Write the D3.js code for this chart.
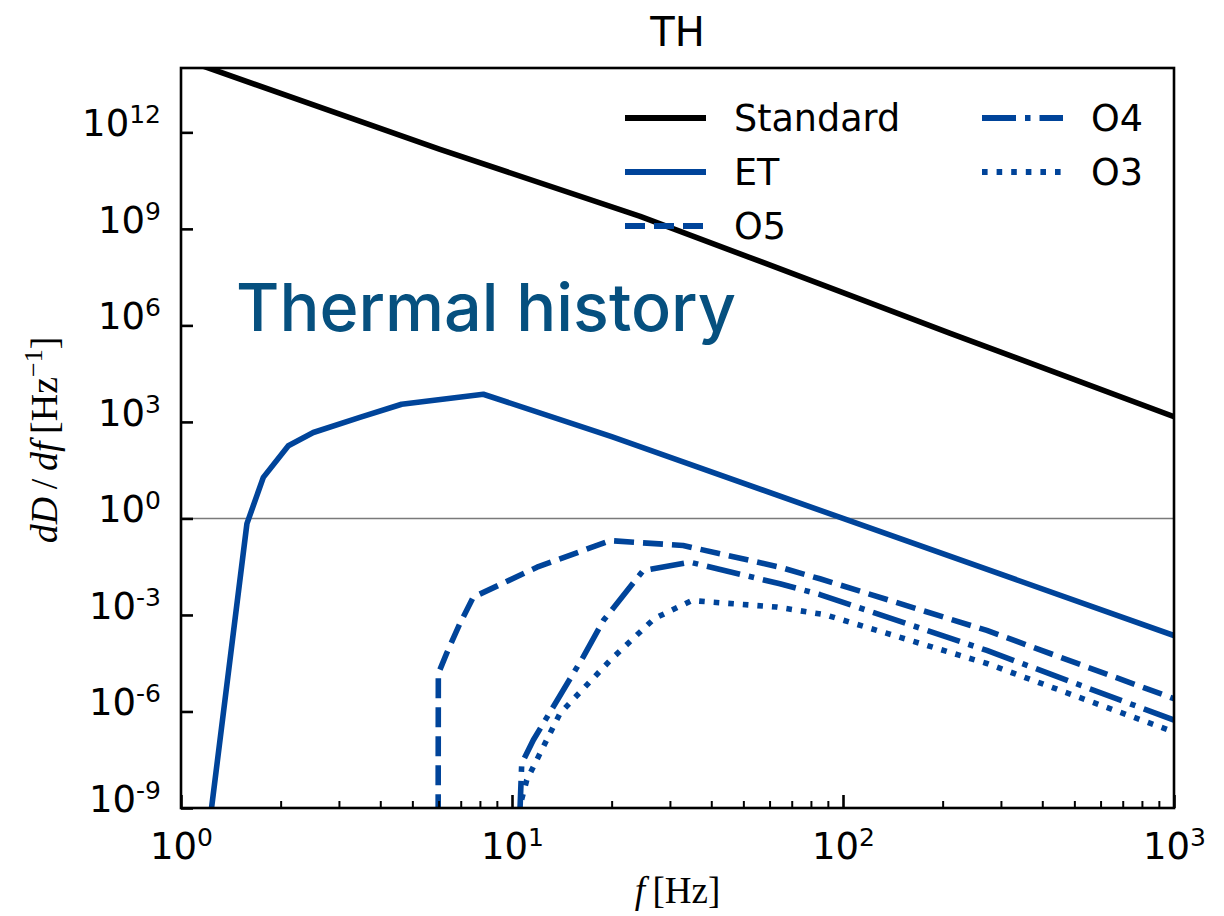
<!DOCTYPE html>
<html>
<head>
<meta charset="utf-8">
<script src="https://cdn.jsdelivr.net/npm/d3@7"></script>
<style>
  html, body { margin: 0; padding: 0; background: #fff; }
  svg { display: block; }
</style>
</head>
<body>
<svg id="chart" width="1224" height="916"></svg>
<script>
// ---------------- data ----------------
const xTickExps = [0, 1, 2, 3];
const yTickExps = [-9, -6, -3, 0, 3, 6, 9, 12];

const standardF = [1, 6.06, 24.4, 100, 210, 450, 1000];
const standardV = [2.0e14, 2.95e11, 2.45e9, 1.05e7, 5.75e5, 3.1e4, 1.45e3];

const etF = [1.2, 1.582, 1.773, 2.11, 2.51, 3.47, 4.64, 8.19, 20, 100, 1000];
const etV = [8.3e-11, 0.69, 18.9, 182, 470, 1380, 3550, 7250, 350, 1.0, 2.3e-4];

const o5F = [5.98, 5.99, 6.35, 6.96, 7.64, 11.9, 19.8, 32.9, 64.5, 85.2, 272, 1000];
const o5V = [1e-11, 1.5e-5, 6.5e-5, 5.4e-4, 3.58e-3, 0.0305, 0.204, 0.144, 0.0305, 0.0133, 3.3e-4, 2.5e-6];

const o4F = [10.4, 10.7, 11.6, 16.4, 18.9, 24.9, 34.5, 64.5, 85.2, 272, 1000];
const o4V = [1e-11, 2.4e-8, 1.3e-7, 4.9e-5, 6.8e-4, 0.024, 0.0437, 9.3e-3, 4.3e-3, 7.9e-5, 5.4e-7];

const o3F = [10.45, 10.6, 11.08, 13.96, 19.8, 26.9, 34.9, 63, 88.2, 272, 1000];
const o3V = [1e-11, 1.3e-9, 7.4e-9, 8.7e-7, 3.9e-5, 7.7e-4, 2.8e-3, 1.76e-3, 1.02e-3, 3.1e-5, 2.3e-7];

const seriesNames = ["Standard", "ET", "O5", "O4", "O3"];

// ---------------- layout ----------------
const L = 181, R = 1174, T = 68, B = 808;
const BLUE = "#00449a";
const LW = 5.6;
const styles = {
  "Standard": { color: "#000", dash: null },
  "ET": { color: BLUE, dash: null },
  "O5": { color: BLUE, dash: [20, 9] },
  "O4": { color: BLUE, dash: [34, 9, 5.5, 9] },
  "O3": { color: BLUE, dash: [5.6, 9] }
};
const seriesData = {
  "Standard": d3.zip(standardF, standardV),
  "ET": d3.zip(etF, etV),
  "O5": d3.zip(o5F, o5V),
  "O4": d3.zip(o4F, o4V),
  "O3": d3.zip(o3F, o3V)
};

const svg = d3.select("#chart");
const x = d3.scaleLog().domain([1, 1000]).range([L, R]);
const y = d3.scaleLog().domain([1e-9, 1e14]).range([B, T]);

svg.append("defs").append("clipPath").attr("id", "plotclip")
  .append("rect").attr("x", L).attr("y", T).attr("width", R - L).attr("height", B - T);

// reference line at 10^0
svg.append("line")
  .attr("x1", L).attr("x2", R).attr("y1", y(1)).attr("y2", y(1))
  .attr("stroke", "#7a7a7a").attr("stroke-width", 1.6);

// series
const line = d3.line().x(d => x(d[0])).y(d => y(d[1]));
const plotG = svg.append("g").attr("clip-path", "url(#plotclip)");
seriesNames.forEach(name => {
  const st = styles[name];
  plotG.append("path")
    .datum(seriesData[name])
    .attr("d", line)
    .attr("fill", "none")
    .attr("stroke", st.color)
    .attr("stroke-width", LW)
    .attr("stroke-linejoin", "round")
    .attr("stroke-dasharray", st.dash ? st.dash.join(",") : null);
});

// frame
svg.append("rect").attr("x", L).attr("y", T).attr("width", R - L).attr("height", B - T)
  .attr("fill", "none").attr("stroke", "#000").attr("stroke-width", 2.6);

// helper for 10^k labels
function powLabel(sel, base, exp, big, small, shift) {
  sel.text(null);
  sel.append("tspan").attr("font-size", big).text(base);
  sel.append("tspan").attr("font-size", small).attr("dy", -shift).text(exp);
}

// y axis
const yAxis = d3.axisLeft(y)
  .tickValues(yTickExps.map(e => Math.pow(10, e)))
  .tickSizeInner(-12).tickSizeOuter(0).tickPadding(20)
  .tickFormat(() => "");
const yg = svg.append("g").attr("transform", `translate(${L},0)`).call(yAxis);
yg.select(".domain").remove();
yg.selectAll(".tick line").attr("stroke", "#000").attr("stroke-width", 2.6);
yg.selectAll(".tick text").each(function(d, i) {
  const t = d3.select(this);
  t.attr("font-family", "DejaVu Sans").attr("fill", "#000").attr("dy", "0.32em").attr("x", -20);
  powLabel(t, "10", String(yTickExps[i]), 37, 25, 13);
});

// x axis (major)
const xAxis = d3.axisBottom(x)
  .tickValues(xTickExps.map(e => Math.pow(10, e)))
  .tickSizeInner(-13).tickSizeOuter(0).tickPadding(0)
  .tickFormat(() => "");
const xg = svg.append("g").attr("transform", `translate(0,${B})`).call(xAxis);
xg.select(".domain").remove();
xg.selectAll(".tick line").attr("stroke", "#000").attr("stroke-width", 2.6);
xg.selectAll(".tick text").each(function(d, i) {
  const t = d3.select(this);
  t.attr("font-family", "DejaVu Sans").attr("fill", "#000").attr("dy", null).attr("y", 51);
  powLabel(t, "10", String(xTickExps[i]), 37, 25, 13);
});

// x axis (minor)
const minorVals = [];
for (let e = 0; e < 3; e++) for (let k = 2; k <= 9; k++) minorVals.push(k * Math.pow(10, e));
const xMinor = d3.axisBottom(x).tickValues(minorVals).tickSizeInner(-7).tickSizeOuter(0).tickFormat(() => "");
const xmg = svg.append("g").attr("transform", `translate(0,${B})`).call(xMinor);
xmg.select(".domain").remove();
xmg.selectAll(".tick line").attr("stroke", "#000").attr("stroke-width", 2);
xmg.selectAll(".tick text").remove();

// title
svg.append("text").attr("x", (L + R) / 2).attr("y", 46)
  .attr("text-anchor", "middle").attr("font-family", "DejaVu Sans").attr("font-size", 40)
  .attr("fill", "#000").text("TH");

// axis labels
const yl = svg.append("text")
  .attr("transform", "translate(57,440) rotate(-90)")
  .attr("text-anchor", "middle")
  .attr("font-family", "Liberation Serif").attr("font-size", 38).attr("fill", "#000");
yl.append("tspan").attr("font-style", "italic").text("dD");
yl.append("tspan").text("\u2009/\u2009");
yl.append("tspan").attr("font-style", "italic").text("df");
yl.append("tspan").text("\u2009[Hz");
yl.append("tspan").attr("font-size", 26).attr("dy", -15).text("\u22121");
yl.append("tspan").attr("dy", 15).text("]");

const xl = svg.append("text")
  .attr("x", (L + R) / 2).attr("y", 903)
  .attr("text-anchor", "middle")
  .attr("font-family", "Liberation Serif").attr("font-size", 37).attr("fill", "#000");
xl.append("tspan").attr("font-style", "italic").text("f");
xl.append("tspan").text("\u2009[Hz]");

// legend
const legendPos = {
  "Standard": [625, 118], "ET": [625, 172], "O5": [625, 226],
  "O4": [982, 118], "O3": [982, 172]
};
const lg = svg.append("g");
seriesNames.forEach(name => {
  const [lx, ly] = legendPos[name];
  const st = styles[name];
  lg.append("line").attr("x1", lx).attr("x2", lx + 81).attr("y1", ly).attr("y2", ly)
    .attr("stroke", st.color).attr("stroke-width", LW + 0.5)
    .attr("stroke-dasharray", st.dash ? st.dash.join(",") : null);
  lg.append("text").attr("x", lx + 109).attr("y", ly).attr("dy", "0.36em")
    .attr("font-family", "DejaVu Sans").attr("font-size", 36.5).attr("fill", "#000")
    .text(name);
});

// annotation
svg.append("text").attr("x", 236).attr("y", 331)
  .attr("font-family", "Inter").attr("font-weight", 500).attr("font-size", 66.5)
  .attr("fill", "#06507f").text("Thermal history");
</script>
</body>
</html>
